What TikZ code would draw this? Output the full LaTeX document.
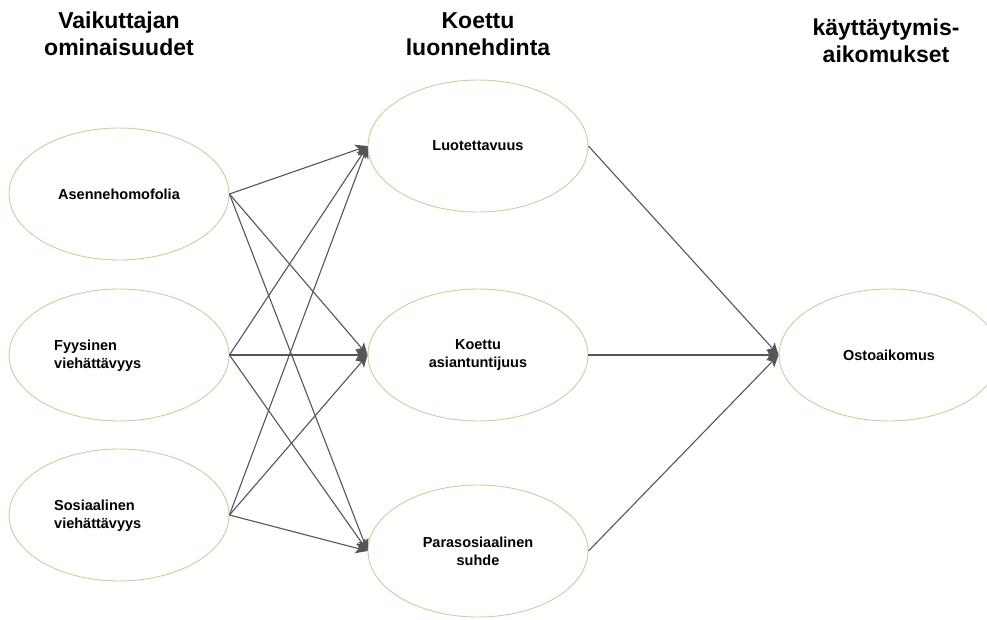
\documentclass[tikz,border=0pt]{standalone}
\usepackage{fontspec}
\setmainfont{Liberation Sans}
\usetikzlibrary{shapes.geometric}
\usetikzlibrary{arrows.meta}
\usetikzlibrary{calc}

\definecolor{ovalgreen}{HTML}{B5D99C}
\definecolor{linegrey}{HTML}{555555}

\begin{document}
\begin{tikzpicture}[x=1pt, y=-1pt,
        oval/.style={ellipse, draw=ovalgreen, line width=0.9pt, minimum width=220pt, minimum height=132pt, inner sep=0pt,
            font=\fontsize{14.5}{18}\selectfont\bfseries, align=center},
        txt/.style={font=\fontsize{14.5}{18}\selectfont\bfseries, align=left, inner sep=0pt},
        heading/.style={font=\fontsize{23}{27}\selectfont\bfseries, align=center},
        link/.style={draw=linegrey, line width=1.1pt, -{Stealth[length=12pt, width=11pt, inset=3pt]}}]
        \useasboundingbox (0,0) rectangle (987,619);
        \clip (0,0) rectangle (987,619);

        \node[heading] (hvaik) at (119,34) {Vaikuttajan\\ominaisuudet};
        \node[heading] (hkoet) at (478,34) {Koettu\\luonnehdinta};
        \node[heading] (hkayt) at (886,41) {käyttäytymis-\\aikomukset};

        \node[oval] (asenne) at (119,194) {Asennehomofolia};
        \node[oval] (fyys) at (119,355) {};
        \node[txt, anchor=west] at ($(fyys.center)+(-65,1)$) {Fyysinen\\viehättävyys};
        \node[oval] (sosi) at (119,515) {};
        \node[txt, anchor=west] at ($(sosi.center)+(-65,1)$) {Sosiaalinen\\viehättävyys};

        \node[oval] (luot) at (478,146) {Luotettavuus};
        \node[oval] (asiant) at (478,355) {Koettu\\asiantuntijuus};
        \node[oval] (para) at (478,551) {Parasosiaalinen\\suhde};

        \node[oval] (osto) at (889,355) {Ostoaikomus};

        \foreach \src in {asenne, fyys, sosi} {
            \foreach \dst in {luot, asiant, para} {
                \draw[link] (\src.east) -- (\dst.west);
            }
        }
        \foreach \src in {luot, asiant, para} {
            \draw[link] (\src.east) -- (osto.west);
        }
    \end{tikzpicture}
\end{document}
